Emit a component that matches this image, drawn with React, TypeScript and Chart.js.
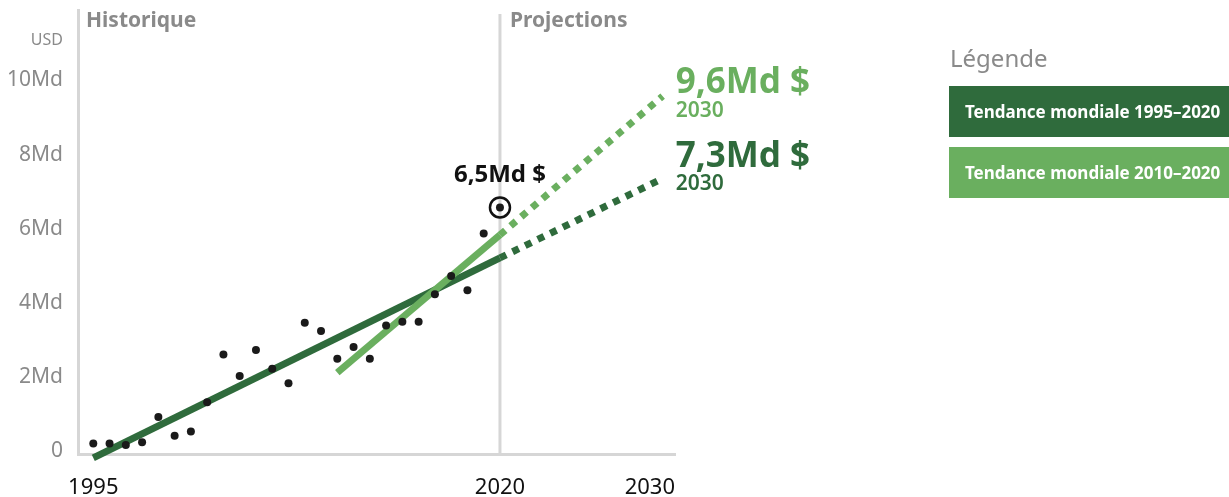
import React, { useEffect, useRef } from "react";
import { Chart, registerables } from "chart.js";
Chart.register(...registerables);

// ---- data ----
const years = [1995, 1996, 1997, 1998, 1999, 2000, 2001, 2002, 2003, 2004, 2005, 2006, 2007, 2008, 2009, 2010, 2011, 2012, 2013, 2014, 2015, 2016, 2017, 2018, 2019, 2020];
const values = [0.19, 0.19, 0.15, 0.22, 0.9, 0.4, 0.51, 1.3, 2.59, 2.01, 2.71, 2.2, 1.81, 3.44, 3.22, 2.47, 2.79, 2.47, 3.37, 3.47, 3.47, 4.21, 4.7, 4.32, 5.85, 6.55];

const trendAYears = [1995, 2020];
const trendAValues = [-0.2, 5.19];
const projAYears = [2020, 2030];
const projAValues = [5.19, 7.33];

const trendBYears = [2010, 2020];
const trendBValues = [2.1, 5.81];
const projBYears = [2020, 2030];
const projBValues = [5.81, 9.55];

const yTicks = [0, 2, 4, 6, 8, 10];
const yTickLabels = ["0", "2Md", "4Md", "6Md", "8Md", "10Md"];
const xTicks = [1995, 2020, 2030];
const xTickLabels = ["1995", "2020", "2030"];

const highlightYear = 2020;
const highlightValue = 6.55;
const highlightLabel = "6,5Md $";

const projALabel = "7,3Md $";
const projBLabel = "9,6Md $";
const projYearLabel = "2030";

const legendTitle = "Légende";
const legendLabels = ["Tendance mondiale 1995–2020", "Tendance mondiale 2010–2020"];

const DARK = "#2f6b3c";
const LIGHT = "#6aaf5f";
const GREY = "#8a8a8a";
const AXIS = "#d6d6d6";
const FONT = "'Noto Sans', sans-serif";

const toPts = (xs: number[], ys: number[]) => xs.map((x, i) => ({ x, y: ys[i] }));

const overlay = {
  id: "overlay",
  beforeDatasetsDraw(chart: any) {
    const { ctx, scales, chartArea } = chart;
    const x = scales.x.getPixelForValue(2020);
    ctx.save();
    ctx.strokeStyle = AXIS;
    ctx.lineWidth = 3;
    ctx.beginPath();
    ctx.moveTo(x, chartArea.top + 4);
    ctx.lineTo(x, chartArea.bottom);
    ctx.stroke();
    ctx.restore();
  },
  afterDraw(chart: any) {
    const { ctx, scales, chartArea } = chart;
    const xs = scales.x;
    const ys = scales.y;
    ctx.save();
    ctx.textBaseline = "middle";
    // y tick labels
    ctx.font = `21px ${FONT}`;
    ctx.fillStyle = GREY;
    ctx.textAlign = "right";
    yTicks.forEach((v, i) => {
      ctx.fillText(yTickLabels[i], 63, ys.getPixelForValue(v) + 1);
    });
    ctx.font = `16px ${FONT}`;
    ctx.fillText("USD", 63, 40);
    // x tick labels
    ctx.font = `22px ${FONT}`;
    ctx.fillStyle = "#111";
    ctx.textAlign = "center";
    xTicks.forEach((v, i) => {
      const w = ctx.measureText(xTickLabels[i]).width;
      let px = xs.getPixelForValue(v);
      if (px + w / 2 > chartArea.right) px = chartArea.right - w / 2;
      ctx.fillText(xTickLabels[i], px, chartArea.bottom + 34);
    });
    // section titles
    ctx.font = `bold 21px ${FONT}`;
    ctx.fillStyle = GREY;
    ctx.textAlign = "left";
    ctx.fillText("Historique", chartArea.left + 8, 21);
    ctx.fillText("Projections", xs.getPixelForValue(2020) + 10, 21);
    // highlight
    const hx = xs.getPixelForValue(highlightYear);
    const hy = ys.getPixelForValue(highlightValue);
    ctx.strokeStyle = "#111";
    ctx.lineWidth = 2.5;
    ctx.beginPath();
    ctx.arc(hx, hy, 10, 0, Math.PI * 2);
    ctx.stroke();
    ctx.font = `bold 24px ${FONT}`;
    ctx.fillStyle = "#111";
    ctx.textAlign = "center";
    ctx.fillText(highlightLabel, hx, hy - 32);
    // projection labels
    const ex = xs.getPixelForValue(2030) + 13;
    const by = ys.getPixelForValue(projBValues[1]);
    const ay = ys.getPixelForValue(projAValues[1]);
    ctx.textAlign = "left";
    ctx.font = `bold 35px ${FONT}`;
    ctx.fillStyle = LIGHT;
    ctx.fillText(projBLabel, ex, by - 13);
    ctx.fillStyle = DARK;
    ctx.fillText(projALabel, ex, ay - 21);
    ctx.font = `600 21px ${FONT}`;
    ctx.fillStyle = LIGHT;
    ctx.fillText(projYearLabel, ex, by + 15);
    ctx.fillStyle = DARK;
    ctx.fillText(projYearLabel, ex, ay + 6);
    ctx.restore();
  },
};

export default function App() {
  const ref = useRef<HTMLCanvasElement>(null);
  useEffect(() => {
    if (!ref.current) return;
    const solid = { borderWidth: 7, pointRadius: 0, borderCapStyle: "butt", clip: false, showLine: true, fill: false };
    const dashed = { ...solid, borderDash: [7, 7], borderDashOffset: 0 };
    const chart = new Chart(ref.current, {
      type: "scatter",
      data: {
        datasets: [
          { label: "pts", data: toPts(years, values), pointRadius: 4, backgroundColor: "#1a1a1a", borderWidth: 0, order: 0 } as any,
          { label: "a", data: toPts(trendAYears, trendAValues), borderColor: DARK, ...solid, order: 2 } as any,
          { label: "ap", data: toPts(projAYears, projAValues), borderColor: DARK, ...dashed, order: 2 } as any,
          { label: "b", data: toPts(trendBYears, trendBValues), borderColor: LIGHT, ...solid, order: 1 } as any,
          { label: "bp", data: toPts(projBYears, projBValues), borderColor: LIGHT, ...dashed, order: 1 } as any,
        ],
      },
      options: {
        responsive: false,
        animation: false,
        events: [],
        layout: { padding: { top: 10, right: 554, left: 0, bottom: 0 } },
        plugins: { legend: { display: false }, tooltip: { enabled: false } },
        scales: {
          x: {
            type: "linear",
            min: 1994.06,
            max: 2030.76,
            grid: { display: false, drawTicks: false },
            border: { display: true, color: AXIS, width: 3 },
            ticks: { display: false },
            afterFit: (s: any) => { s.height = 43; },
          },
          y: {
            type: "linear",
            min: -0.094,
            max: 11.87,
            grid: { display: false, drawTicks: false },
            border: { display: true, color: AXIS, width: 3 },
            afterBuildTicks: (s: any) => { s.ticks = yTicks.map((v) => ({ value: v })); },
            ticks: { display: false },
            afterFit: (s: any) => { s.width = 78; },
          },
        },
      },
      plugins: [overlay],
    } as any);
    return () => chart.destroy();
  }, []);

  const box = (i: number) => ({
    position: "absolute" as const,
    left: 949,
    top: i === 0 ? 86 : 147,
    width: 280,
    height: 51,
    background: i === 0 ? DARK : LIGHT,
    color: "#fff",
    fontFamily: FONT,
    fontWeight: 700,
    fontSize: 17,
    lineHeight: "51px",
    paddingLeft: 16,
    boxSizing: "border-box" as const,
    whiteSpace: "nowrap" as const,
  });

  return (
    <div style={{ position: "fixed", left: 0, top: 0, width: 1229, height: 497, background: "#fff", overflow: "hidden" }}>
      <canvas ref={ref} width={1229} height={497} style={{ position: "absolute", left: 0, top: 0, width: 1229, height: 497 }} />
      <div style={{ position: "absolute", left: 950, top: 42, fontFamily: FONT, fontSize: 24, color: GREY, lineHeight: "32px" }}>{legendTitle}</div>
      {legendLabels.map((l, i) => (
        <div key={l} style={box(i)}>{l}</div>
      ))}
    </div>
  );
}
